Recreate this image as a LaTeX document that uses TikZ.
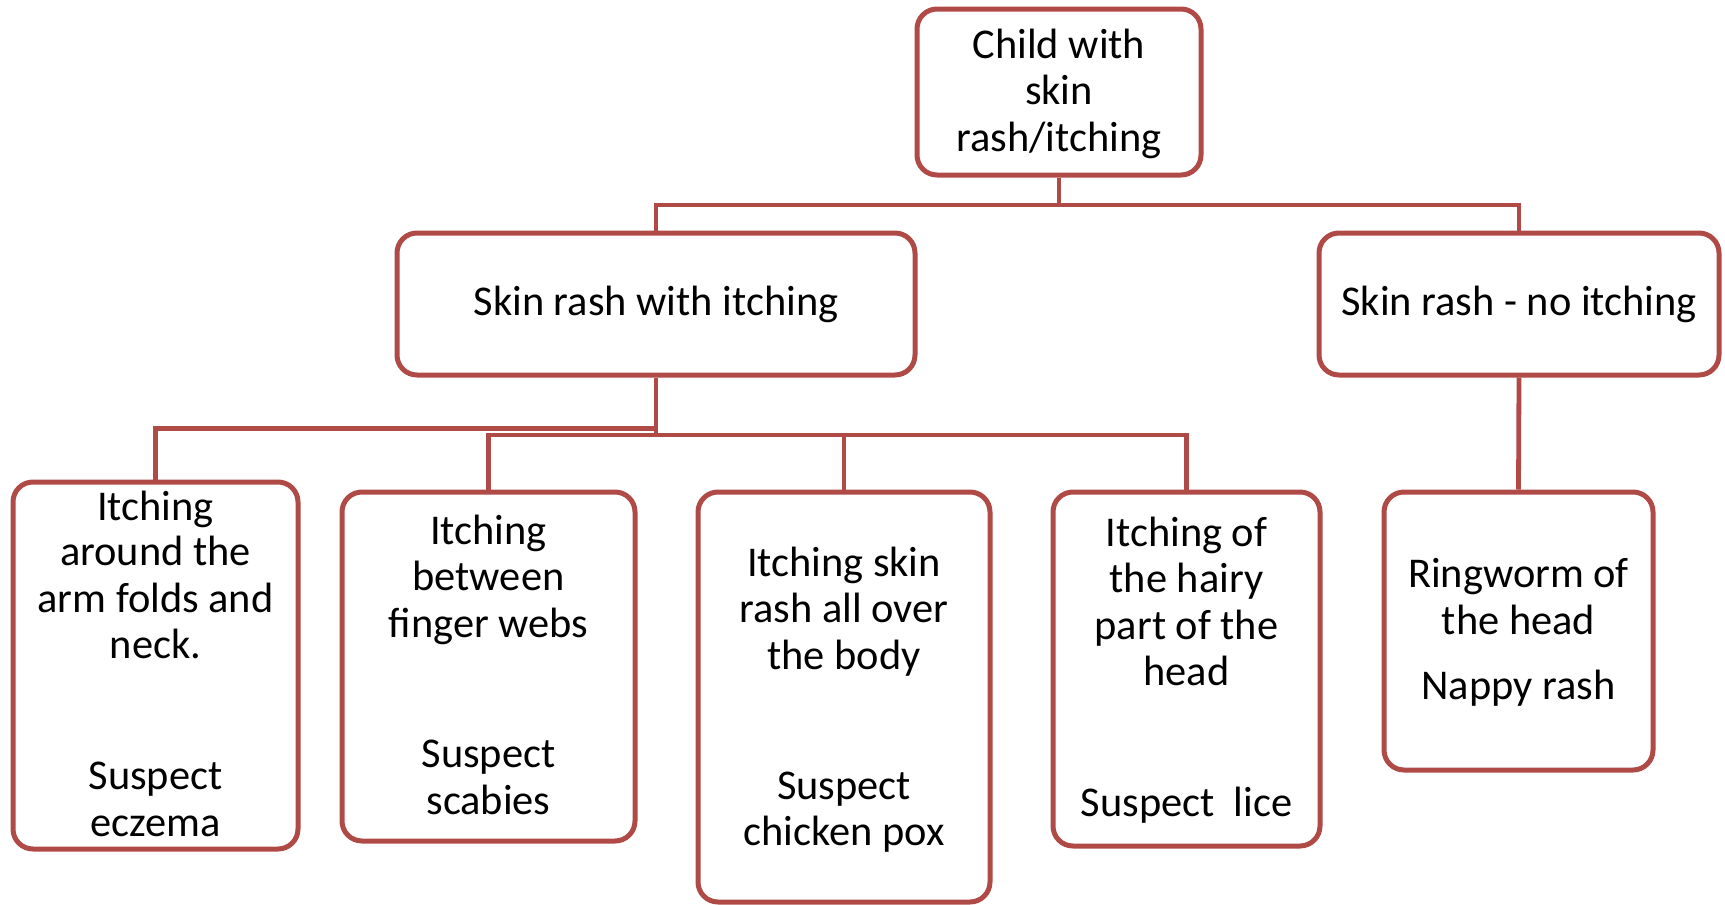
\documentclass[tikz,border=0pt]{standalone}
\usepackage{fontspec}
\setmainfont{Carlito}
\definecolor{rashred}{RGB}{176,74,71}
\begin{document}
\begin{tikzpicture}[x=0.5pt,y=-0.5pt,
  box/.style={draw=rashred, line width=2.5pt, rounded corners=10pt, fill=white, inner sep=0pt},
  link/.style={draw=rashred, line width=2.4pt},
  lbl/.style={anchor=base, inner sep=0pt, text=black, font=\fontsize{21.2}{23.4}\selectfont}]
\useasboundingbox (0,0) rectangle (1725,905);
% levels of connector lines
\coordinate (h1) at (0,205);
\coordinate (h2) at (0,428.5);
\coordinate (h3) at (0,435);
% boxes
\node[box, minimum width=142pt, minimum height=83pt] (top) at (1059,92) {};
\node[box, minimum width=259pt, minimum height=71pt] (A) at (656,304) {};
\node[box, minimum width=200pt, minimum height=71pt] (B) at (1519,304) {};
\node[box, minimum width=142.5pt, minimum height=183.5pt] (C1) at (155.5,665.5) {};
\node[box, minimum width=146.5pt, minimum height=174.5pt] (C2) at (488.5,666.5) {};
\node[box, minimum width=146pt, minimum height=205pt] (C3) at (844,697) {};
\node[box, minimum width=133.5pt, minimum height=177pt] (C4) at (1186.5,669) {};
\node[box, minimum width=134.5pt, minimum height=139pt] (C5) at (1518.5,631) {};
% connectors
\draw[link] (top.south) -- (top.south |- h1) -| (A.north);
\draw[link] (top.south) -- (top.south |- h1) -| (B.north);
\draw[link] (A.south) -- (A.south |- h2) -| (C1.north);
\draw[link] (A.south) -- (A.south |- h3) -| (C2.north);
\draw[link] (A.south) -- (A.south |- h3) -| (C3.north);
\draw[link] (A.south) -- (A.south |- h3) -| (C4.north);
\draw[link] (B.south) -- (C5.north);
% texts
\node[lbl] (t1) at (1059,58.3) {Child with};
\node[lbl] (t2) at (1059,104.5) {skin};
\node[lbl] (t3) at (1059,151.8) {rash/itching};
\node[lbl] (a1) at (656,315.7) {Skin rash with itching};
\node[lbl] (b1) at (1519,315.7) {Skin rash - no itching};
\node[lbl] (c11) at (155.5,520.3) {Itching};
\node[lbl] (c12) at (155.5,565.4) {around the};
\node[lbl] (c13) at (155.5,612.7) {arm folds and};
\node[lbl] (c14) at (155.5,658.9) {neck.};
\node[lbl] (c15) at (155.5,789.8) {Suspect};
\node[lbl] (c16) at (155.5,836) {eczema};
\node[lbl] (c21) at (488.5,544.5) {Itching};
\node[lbl] (c22) at (488.5,590.7) {between};
\node[lbl] (c23) at (488.5,637) {finger webs};
\node[lbl] (c24) at (488.5,767.8) {Suspect};
\node[lbl] (c25) at (488.5,814) {scabies};
\node[lbl] (c31) at (844,576.4) {Itching skin};
\node[lbl] (c32) at (844,622.6) {rash all over};
\node[lbl] (c33) at (844,669.9) {the body};
\node[lbl] (c34) at (844,799.7) {Suspect};
\node[lbl] (c35) at (844,845.9) {chicken pox};
\node[lbl] (c41) at (1186.5,546.7) {Itching of};
\node[lbl] (c42) at (1186.5,592.9) {the hairy};
\node[lbl] (c43) at (1186.5,639.1) {part of the};
\node[lbl] (c44) at (1186.5,685.3) {head};
\node[lbl] (c45) at (1186.5,816.2) {Suspect~~lice};
\node[lbl] (c51) at (1518.5,587.4) {Ringworm of};
\node[lbl] (c52) at (1518.5,634.7) {the head};
\node[lbl] (c53) at (1518.5,699.6) {Nappy rash};
\end{tikzpicture}
\end{document}
